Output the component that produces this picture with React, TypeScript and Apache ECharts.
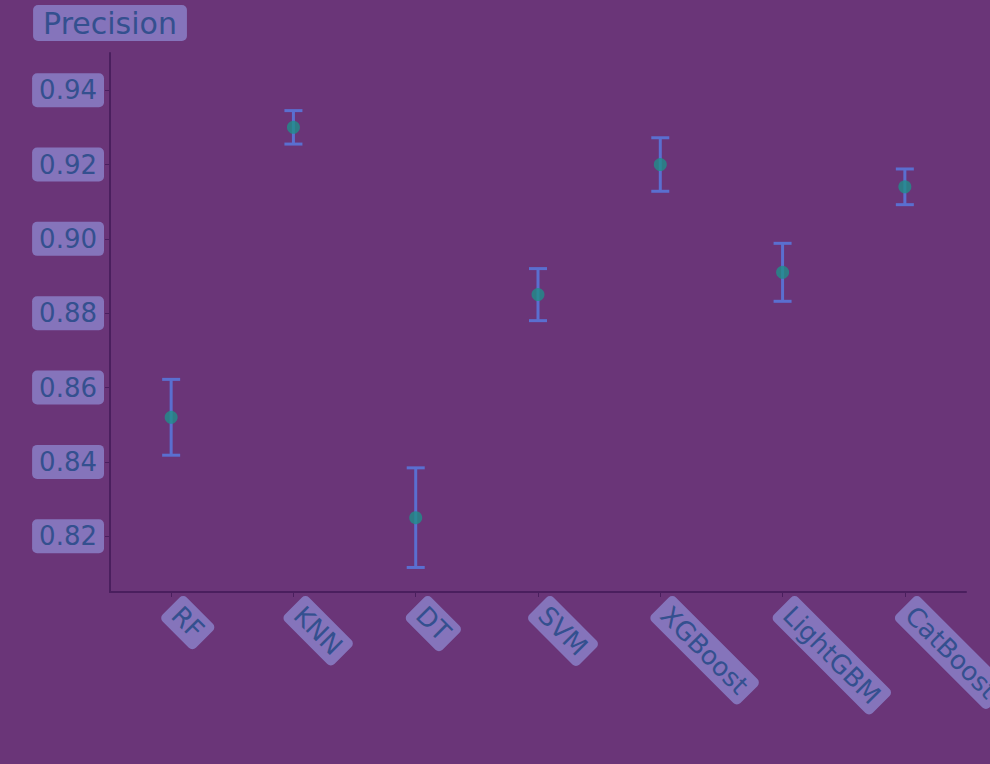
import React, { useEffect, useRef } from "react";
import * as echarts from "echarts";

const categories = ["RF", "KNN", "DT", "SVM", "XGBoost", "LightGBM", "CatBoost"];
const precision = [0.852, 0.930, 0.825, 0.885, 0.920, 0.891, 0.914];
const errors = [0.0102, 0.0045, 0.0134, 0.007, 0.0072, 0.0078, 0.0048];
const yTicks = [0.82, 0.84, 0.86, 0.88, 0.9, 0.92, 0.94];

export default function App() {
  const ref = useRef<HTMLDivElement>(null);
  useEffect(() => {
    if (!ref.current) return;
    const chart = echarts.init(ref.current, null, { renderer: "svg" });
    const errData = categories.map((c, i) => [i, precision[i] - errors[i], precision[i] + errors[i]]);
    const labelBox = {
      color: "#34508f",
      backgroundColor: "#8574bb",
      fontFamily: "DejaVu Sans",
      fontSize: 26,
      padding: [4, 7],
      borderRadius: 5,
    };
    chart.setOption({
      animation: false,
      backgroundColor: "#6a3578",
      grid: { left: 110, right: 24, top: 53, bottom: 172, containLabel: false, outerBoundsMode: "none" },
      xAxis: {
        type: "category",
        data: categories,
        axisLine: { lineStyle: { color: "#4a1f5e", width: 2 } },
        axisTick: { show: true, alignWithLabel: true, lineStyle: { color: "#4a1f5e" } },
        axisLabel: { ...labelBox, rotate: -45, margin: 14, interval: 0 },
        splitLine: { show: false },
      },
      yAxis: {
        type: "value",
        min: 0.805,
        max: 0.95,
        name: "Precision",
        nameGap: 12,
        nameTextStyle: { ...labelBox, fontSize: 30, padding: [3, 10] },
        axisLine: { show: true, lineStyle: { color: "#4a1f5e", width: 2 } },
        axisTick: { show: true, customValues: yTicks, lineStyle: { color: "#4a1f5e" } },
        axisLabel: {
          ...labelBox,
          customValues: yTicks,
          margin: 6,
          formatter: (v: number) => v.toFixed(2),
        },
        splitLine: { show: false },
      },
      series: [
        {
          type: "custom",
          clip: false,
          data: errData,
          renderItem: (params: any, api: any) => {
            const x = api.value(0);
            const lo = api.coord([x, api.value(1)]);
            const hi = api.coord([x, api.value(2)]);
            const cap = 9;
            const style = { stroke: "#5a6fd0", lineWidth: 3, fill: "none" };
            return {
              type: "group",
              children: [
                { type: "line", shape: { x1: lo[0], y1: lo[1], x2: hi[0], y2: hi[1] }, style },
                { type: "line", shape: { x1: lo[0] - cap, y1: lo[1], x2: lo[0] + cap, y2: lo[1] }, style },
                { type: "line", shape: { x1: hi[0] - cap, y1: hi[1], x2: hi[0] + cap, y2: hi[1] }, style },
              ],
            };
          },
          z: 2,
        },
        {
          type: "scatter",
          data: precision,
          symbol: "circle",
          symbolSize: 13,
          itemStyle: { color: "#1f8f8a" },
          z: 3,
        },
      ],
    });
    return () => chart.dispose();
  }, []);
  return (
    <div
      ref={ref}
      style={{ position: "fixed", left: 0, top: 0, width: 990, height: 764 }}
    />
  );
}
